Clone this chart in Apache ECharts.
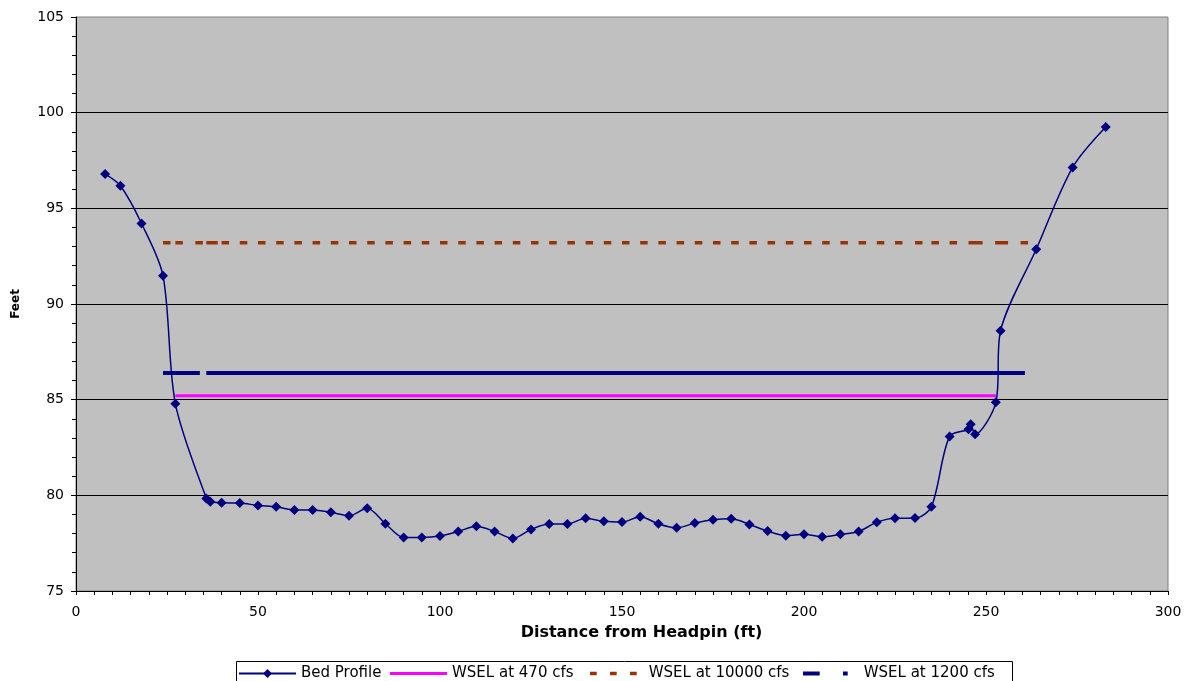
<!DOCTYPE html>
<html>
<head>
<meta charset="utf-8">
<title>Cross Section – Bed Profile and Water Surface Elevations</title>
<script src="https://cdn.jsdelivr.net/npm/echarts@6/dist/echarts.min.js"></script>
<style>
  html, body { margin: 0; padding: 0; background: #ffffff; }
  #chart { width: 1193px; height: 681px; }
</style>
</head>
<body>
<div id="chart"></div>
<script>
// Surveyed bed profile: station (ft from headpin) and bed elevation (ft)
const bedStation = [
  8, 12.2, 18, 23.9, 27.3, 35.8, 36.9,
  40, 45, 50, 55, 60, 65, 70, 75, 80, 85, 90, 95, 100, 105, 110, 115, 120,
  125, 130, 135, 140, 145, 150, 155, 160, 165, 170, 175, 180, 185, 190, 195,
  200, 205, 210, 215, 220, 225, 230.5, 235,
  240, 245.2, 245.8, 247, 252.7, 254, 263.8, 273.8, 282.9
];
const bedElevation = [
  96.79, 96.18, 94.21, 91.48, 84.79, 79.84, 79.66,
  79.61, 79.6, 79.47, 79.4, 79.23, 79.23, 79.11, 78.93, 79.33, 78.52, 77.8, 77.8, 77.87, 78.11, 78.39, 78.11, 77.75,
  78.22, 78.5, 78.5, 78.8, 78.64, 78.6, 78.88, 78.51, 78.3, 78.55, 78.72, 78.77, 78.48, 78.13, 77.89,
  77.96, 77.83, 77.96, 78.11, 78.59, 78.8, 78.81, 79.4,
  83.08, 83.45, 83.71, 83.19, 84.86, 88.6, 92.86, 97.14, 99.25
];

// Water surface elevations (ft) and the stations where each one starts and ends
const wsel470Level = 85.2;
const wsel470Ends = [27.3, 252.7];
const wsel10000Level = 93.2;
const wsel10000Ends = [23.9, 261.8];
const wsel1200Level = 86.4;
const wsel1200Ends = [23.9, 260.7];

// Axis ranges and steps
const xRange = [0, 300, 50];
const yRange = [75, 105, 5];

const FONT = 'DejaVu Sans';

// A water surface is tabulated at every surveyed station across its wetted width,
// plus its end station. Each station-to-station piece is kept as its own run so a
// dash pattern starts fresh at every station.
function waterSurface(level, ends) {
  const stations = bedStation.filter(x => x >= ends[0] && x <= ends[1]);
  if (stations[stations.length - 1] !== ends[1]) stations.push(ends[1]);
  if (stations[0] !== ends[0]) stations.unshift(ends[0]);
  const runs = [];
  for (let i = 0; i < stations.length - 1; i++) {
    runs.push([stations[i], level], [stations[i + 1], level], [stations[i + 1], '-']);
  }
  return runs;
}

const bedData = bedStation.map((x, i) => [x, bedElevation[i]]);

const chart = echarts.init(document.getElementById('chart'), null, { renderer: 'canvas' });

const legendBase = {
  top: 666,
  padding: 0,
  selectedMode: false,
  itemStyle: { borderWidth: 0 },
  textStyle: { fontFamily: FONT, fontSize: 15, color: '#000' }
};

chart.setOption({
  animation: false,
  backgroundColor: '#ffffff',
  grid: {
    left: 76, top: 17, right: 25, bottom: 90,
    show: true,
    backgroundColor: '#C0C0C0',
    borderColor: '#808080',
    borderWidth: 1,
    outerBoundsMode: 'none'
  },
  xAxis: {
    type: 'value',
    min: xRange[0], max: xRange[1], interval: xRange[2],
    name: 'Distance from Headpin (ft)',
    nameLocation: 'middle',
    nameGap: 34,
    nameTextStyle: { fontFamily: FONT, fontSize: 16, fontWeight: 'bold', color: '#000', padding: [0, 0, 0, 39] },
    axisLine: { show: true, onZero: false, lineStyle: { color: '#000', width: 1 } },
    axisTick: { show: true, length: 4, lineStyle: { color: '#000' } },
    minorTick: { show: true, splitNumber: 10, length: 4, lineStyle: { color: '#000' } },
    splitLine: { show: false },
    axisLabel: { fontFamily: FONT, fontSize: 14, color: '#000', margin: 14 }
  },
  yAxis: {
    type: 'value',
    min: yRange[0], max: yRange[1], interval: yRange[2],
    name: 'Feet',
    nameLocation: 'middle',
    nameRotate: 90,
    nameGap: 54,
    nameTextStyle: { fontFamily: FONT, fontSize: 12, fontWeight: 'bold', color: '#000' },
    axisLine: { show: true, onZero: false, lineStyle: { color: '#000', width: 1 } },
    axisTick: { show: true, length: 5, lineStyle: { color: '#000' } },
    minorTick: { show: true, splitNumber: 5, length: 4, lineStyle: { color: '#000' } },
    splitLine: { show: true, showMaxLine: false, lineStyle: { color: '#000', width: 1 } },
    axisLabel: { fontFamily: FONT, fontSize: 14, color: '#000', margin: 12 }
  },
  legend: [
    Object.assign({}, legendBase, {
      data: ['Bed Profile'], left: 238, itemWidth: 57, itemHeight: 11
    }),
    Object.assign({}, legendBase, {
      data: [{ name: 'WSEL at 470 cfs', icon: 'rect' }], left: 390, itemWidth: 57, itemHeight: 3
    }),
    Object.assign({}, legendBase, {
      data: [{ name: 'WSEL at 10000 cfs', icon: 'path://M0,0h6.7v3.3h-6.7zM20,0h6.7v3.3h-6.7zM40,0h6.7v3.3h-6.7z' }],
      left: 590, itemWidth: 46.7, itemHeight: 3.3,
      textStyle: { fontFamily: FONT, fontSize: 15, color: '#000', padding: [0, 0, 0, 7] }
    }),
    Object.assign({}, legendBase, {
      data: [{ name: 'WSEL at 1200 cfs', icon: 'path://M0,0h16.7v4h-16.7zM40,0h4.7v4h-4.7z' }],
      left: 803, itemWidth: 44.7, itemHeight: 4,
      textStyle: { fontFamily: FONT, fontSize: 15, color: '#000', padding: [0, 0, 0, 11] }
    })
  ],
  graphic: [{
    type: 'rect',
    z: -1,
    shape: { x: 236.5, y: 661.5, width: 776, height: 40 },
    style: { fill: '#ffffff', stroke: '#000000', lineWidth: 1 }
  }],
  series: [
    {
      name: 'WSEL at 470 cfs',
      type: 'line',
      data: waterSurface(wsel470Level, wsel470Ends),
      symbol: 'none',
      color: '#FF00FF',
      lineStyle: { color: '#FF00FF', width: 3 },
      z: 2
    },
    {
      name: 'WSEL at 10000 cfs',
      type: 'line',
      data: waterSurface(wsel10000Level, wsel10000Ends),
      symbol: 'none',
      color: '#993300',
      lineStyle: { color: '#993300', width: 3.3, type: [7.5, 12.5], cap: 'butt' },
      z: 2
    },
    {
      name: 'WSEL at 1200 cfs',
      type: 'line',
      data: waterSurface(wsel1200Level, wsel1200Ends),
      symbol: 'none',
      color: '#000080',
      lineStyle: { color: '#000080', width: 4, type: [24.5, 7.5], cap: 'butt' },
      z: 2
    },
    {
      name: 'Bed Profile',
      type: 'line',
      data: bedData,
      smooth: 0.3,
      symbol: 'diamond',
      symbolSize: 10,
      showAllSymbol: true,
      color: '#000080',
      itemStyle: { color: '#000080', borderWidth: 0 },
      lineStyle: { color: '#000080', width: 1.5 },
      z: 3
    }
  ]
});
</script>
</body>
</html>
